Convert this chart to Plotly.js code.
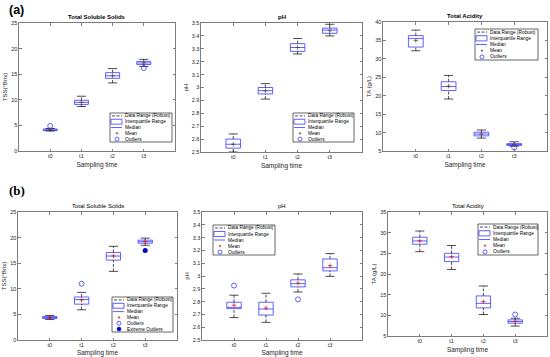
<!DOCTYPE html>
<html><head><meta charset="utf-8">
<script src="https://cdn.plot.ly/plotly-3.0.1.min.js"></script>
<style>html,body{margin:0;padding:0;background:#fff}#chart{width:550px;height:357px}</style>
</head><body><div id="chart"></div>
<script>
const categories = ['t0','t1','t2','t3'];

// ---- (a) Total Soluble Solids ----
const aTSS_q1     = [4.0, 9.1, 14.2, 16.9];
const aTSS_median = [4.1, 9.5, 14.7, 17.2];
const aTSS_q3     = [4.3, 9.9, 15.3, 17.5];
const aTSS_lower  = [3.9, 8.7, 13.3, 16.5];
const aTSS_upper  = [4.4, 10.7, 16.1, 17.9];
const aTSS_mean   = [4.15, 9.5, 14.7, 17.2];
const aTSS_outX   = ['t0', 't3'];
const aTSS_outY   = [4.9, 16.2];

// ---- (a) pH ----
const aPH_q1     = [2.53, 2.95, 3.28, 3.42];
const aPH_median = [2.56, 2.975, 3.31, 3.445];
const aPH_q3     = [2.60, 3.00, 3.34, 3.46];
const aPH_lower  = [2.50, 2.91, 3.26, 3.40];
const aPH_upper  = [2.64, 3.03, 3.38, 3.49];
const aPH_mean   = [2.56, 2.975, 3.31, 3.44];
const aPH_outX   = [];
const aPH_outY   = [];

// ---- (a) Total Acidity ----
const aTA_q1     = [33.2, 21.4, 9.1, 6.5];
const aTA_median = [35.5, 22.5, 9.6, 6.8];
const aTA_q3     = [36.3, 23.8, 10.1, 7.0];
const aTA_lower  = [32.2, 19.1, 8.5, 6.3];
const aTA_upper  = [37.8, 25.5, 10.7, 7.5];
const aTA_mean   = [35.0, 22.6, 9.6, 6.7];
const aTA_outX   = ['t3'];
const aTA_outY   = [6.0];

// ---- (b) Total Soluble Solids ----
const bTSS_q1     = [4.2, 7.0, 15.6, 18.9];
const bTSS_median = [4.4, 7.9, 16.4, 19.2];
const bTSS_q3     = [4.6, 8.4, 17.1, 19.5];
const bTSS_lower  = [4.0, 5.9, 13.4, 18.5];
const bTSS_upper  = [4.8, 9.3, 18.3, 19.9];
const bTSS_mean   = [4.4, 7.8, 16.4, 19.2];
const bTSS_outX   = ['t1'];
const bTSS_outY   = [11.0];
const bTSS_extX   = ['t3'];
const bTSS_extY   = [17.5];

// ---- (b) pH ----
const bPH_q1     = [2.745, 2.695, 2.915, 3.04];
const bPH_median = [2.755, 2.742, 2.94, 3.065];
const bPH_q3     = [2.795, 2.795, 2.97, 3.133];
const bPH_lower  = [2.675, 2.638, 2.875, 2.997];
const bPH_upper  = [2.85, 2.865, 3.016, 3.175];
const bPH_mean   = [2.772, 2.75, 2.945, 3.08];
const bPH_outX   = ['t0', 't2'];
const bPH_outY   = [2.925, 2.818];

// ---- (b) Total Acidity ----
const bTA_q1     = [27.2, 23.0, 11.8, 8.1];
const bTA_median = [28.0, 24.1, 12.9, 8.5];
const bTA_q3     = [28.9, 25.0, 14.7, 8.9];
const bTA_lower  = [25.4, 21.1, 10.2, 7.4];
const bTA_upper  = [30.4, 26.9, 17.1, 9.3];
const bTA_mean   = [28.0, 24.2, 13.3, 8.5];
const bTA_outX   = ['t3'];
const bTA_outY   = [10.2];

// tick labels
const tssTicks = [0, 5, 10, 15, 20, 25];
const phTicks = [2.5, 2.6, 2.7, 2.8, 2.9, 3.0, 3.1, 3.2, 3.3, 3.4, 3.5];
const phTickText = ['2.5','2.6','2.7','2.8','2.9','3','3.1','3.2','3.3','3.4','3.5'];
const taTicksA = [5, 10, 15, 20, 25, 30, 35, 40];
const taTicksB = [5, 10, 15, 20, 25, 30, 35];

const legendA = ['Data Range (Robust)', 'Interquartile Range', 'Median', 'Mean', 'Outliers'];
const legendB = ['Data Range (Robust)', 'Interquartile Range', 'Median', 'Mean', 'Outliers', 'Extreme Outliers'];

// ---------- layout geometry (pixels) ----------
const W = 550, H = 357;
const FONT = 'Liberation Sans, Arial, sans-serif';
const BLUE = '#3a3aff';
const AX = '#262626';
const panels = [
  {title:'Total Soluble Solids', bold:true,  ytitle:'TSS(°Brix)', area:[19,175,23,151], range:[0,25], tv:tssTicks, tt:tssTicks.map(String),
   q1:aTSS_q1, med:aTSS_median, q3:aTSS_q3, lo:aTSS_lower, hi:aTSS_upper, mean:aTSS_mean, ox:aTSS_outX, oy:aTSS_outY, ex:[], ey:[],
   leg:legendA, legBox:[110,113,172,142], meanColor:'#553333'},
  {title:'pH', bold:true, ytitle:'pH', area:[201,362,23,152], range:[2.5,3.5], tv:phTicks, tt:phTickText,
   q1:aPH_q1, med:aPH_median, q3:aPH_q3, lo:aPH_lower, hi:aPH_upper, mean:aPH_mean, ox:aPH_outX, oy:aPH_outY, ex:[], ey:[],
   leg:legendA, legBox:[293,113,354,142], meanColor:'#553333'},
  {title:'Total Acidity', bold:true, ytitle:'TA (g/L)', area:[383,547,22,151], range:[5,40], tv:taTicksA, tt:taTicksA.map(String),
   q1:aTA_q1, med:aTA_median, q3:aTA_q3, lo:aTA_lower, hi:aTA_upper, mean:aTA_mean, ox:aTA_outX, oy:aTA_outY, ex:[], ey:[],
   leg:legendA, legBox:[475,29,538,60], meanColor:'#553333'},
  {title:'Total Soluble Solids', bold:false, ytitle:'TSS(°Brix)', area:[18,177,212,340], range:[0,25], tv:tssTicks, tt:tssTicks.map(String),
   q1:bTSS_q1, med:bTSS_median, q3:bTSS_q3, lo:bTSS_lower, hi:bTSS_upper, mean:bTSS_mean, ox:bTSS_outX, oy:bTSS_outY, ex:bTSS_extX, ey:bTSS_extY,
   leg:legendB, legBox:[112,297,173,332], meanColor:'#e00000'},
  {title:'pH', bold:false, ytitle:'pH', area:[202,362,212,340], range:[2.5,3.5], tv:phTicks, tt:phTickText,
   q1:bPH_q1, med:bPH_median, q3:bPH_q3, lo:bPH_lower, hi:bPH_upper, mean:bPH_mean, ox:bPH_outX, oy:bPH_outY, ex:[], ey:[],
   leg:legendA, legBox:[213,225,275,255], meanColor:'#e00000'},
  {title:'Total Acidity', bold:false, ytitle:'TA (g/L)', area:[388,547,212,336], range:[5,35], tv:taTicksB, tt:taTicksB.map(String),
   q1:bTA_q1, med:bTA_median, q3:bTA_q3, lo:bTA_lower, hi:bTA_upper, mean:bTA_mean, ox:bTA_outX, oy:bTA_outY, ex:[], ey:[],
   leg:legendA, legBox:[478,224,538,255], meanColor:'#e00000'}
];

const px = x => x / W;
const py = y => 1 - y / H;

const traces = [];
const layout = {
  width: W, height: H,
  margin: {l:0, r:0, t:0, b:0},
  paper_bgcolor: '#fff', plot_bgcolor: '#fff',
  showlegend: false,
  font: {family: FONT, color: AX, size: 5.5},
  shapes: [], annotations: []
};

panels.forEach((p, i) => {
  const n = i === 0 ? '' : String(i + 1);
  const xa = 'x' + n, ya = 'y' + n;
  const [x0, x1, y0, y1] = p.area;
  layout['xaxis' + n] = {
    domain: [px(x0), px(x1)], anchor: ya, type: 'category',
    categoryorder: 'array', categoryarray: categories, range: [-1, 4],
    showline: true, linecolor: AX, linewidth: 0.6, mirror: 'ticks',
    ticks: 'inside', ticklen: 2.5, tickwidth: 0.6, tickcolor: AX,
    showgrid: false, zeroline: false, fixedrange: true,
    tickfont: {family: FONT, size: 5.5, color: AX},
    title: {text: 'Sampling time', font: {family: FONT, size: 6.5, color: AX}, standoff: 3.5}
  };
  layout['yaxis' + n] = {
    domain: [py(y1), py(y0)], anchor: xa, range: p.range,
    tickmode: 'array', tickvals: p.tv, ticktext: p.tt,
    showline: true, linecolor: AX, linewidth: 0.6, mirror: 'ticks',
    ticks: 'inside', ticklen: 2.5, tickwidth: 0.6, tickcolor: AX,
    showgrid: false, zeroline: false, fixedrange: true,
    tickfont: {family: FONT, size: 5.5, color: AX},
    title: {text: p.ytitle, font: {family: FONT, size: 6, color: AX}, standoff: 2}
  };

  // whiskers (dashed black), built from the data arrays
  const wx = [], wy = [];
  categories.forEach((c, k) => {
    wx.push(c, c, null, c, c, null);
    wy.push(p.lo[k], p.q1[k], null, p.q3[k], p.hi[k], null);
  });
  traces.push({type:'scatter', mode:'lines', x:wx, y:wy, xaxis:xa, yaxis:ya,
    line:{color:'#000', width:0.7, dash:'3px,1.5px'}, hoverinfo:'skip', name:'Data Range (Robust)'});
  // whisker caps
  traces.push({type:'scatter', mode:'markers', x:categories.concat(categories), y:p.lo.concat(p.hi), xaxis:xa, yaxis:ya,
    marker:{symbol:'line-ew', size:6.5, line:{color:'#000', width:0.7}}, hoverinfo:'skip'});
  // boxes (IQR + median)
  traces.push({type:'box', x:categories, q1:p.q1, median:p.med, q3:p.q3, lowerfence:p.q1, upperfence:p.q3,
    xaxis:xa, yaxis:ya, width:0.45, boxpoints:false, whiskerwidth:0,
    line:{color:BLUE, width:0.8}, fillcolor:'rgba(0,0,0,0)', name:'Interquartile Range'});
  // means
  traces.push({type:'scatter', mode:'markers', x:categories, y:p.mean, xaxis:xa, yaxis:ya,
    marker:{symbol:'cross-thin', size:3.2, line:{color:p.meanColor, width:0.7}}, name:'Mean'});
  // outliers
  if (p.ox.length) traces.push({type:'scatter', mode:'markers', x:p.ox, y:p.oy, xaxis:xa, yaxis:ya,
    marker:{symbol:'circle-open', size:5, line:{color:BLUE, width:0.8}, color:BLUE}, name:'Outliers'});
  if (p.ex.length) traces.push({type:'scatter', mode:'markers', x:p.ex, y:p.ey, xaxis:xa, yaxis:ya,
    marker:{symbol:'circle', size:5, color:'#0000c8'}, name:'Extreme Outliers'});

  // panel title
  layout.annotations.push({xref:'paper', yref:'paper', x:px((x0 + x1) / 2), y:py(y0 - 1.5),
    xanchor:'center', yanchor:'bottom', showarrow:false,
    text: p.bold ? '<b>' + p.title + '</b>' : p.title,
    font:{family: FONT, size: 6, color: '#000'}});

  // legend box (drawn as decoration)
  const [lx0, ly0, lx1, ly1] = p.legBox;
  const ih = (ly1 - ly0) / p.leg.length;
  layout.shapes.push({type:'rect', xref:'paper', yref:'paper', x0:px(lx0), x1:px(lx1), y0:py(ly0), y1:py(ly1),
    line:{color:'#000', width:0.6}, fillcolor:'#fff', layer:'above'});
  p.leg.forEach((name, k) => {
    const cy = ly0 + ih * (k + 0.5);
    const sx0 = lx0 + 2, sx1 = lx0 + 12, sc = lx0 + 7;
    if (name === 'Data Range (Robust)') {
      layout.shapes.push({type:'line', xref:'paper', yref:'paper', x0:px(sx0), x1:px(sx1), y0:py(cy), y1:py(cy),
        line:{color:'#000', width:0.7, dash:'3px,1.5px'}, layer:'above'});
    } else if (name === 'Interquartile Range') {
      layout.shapes.push({type:'rect', xref:'paper', yref:'paper', x0:px(sx0 - 1), x1:px(sx1), y0:py(cy - ih * 0.42), y1:py(cy + ih * 0.42),
        line:{color:BLUE, width:0.8}, fillcolor:'rgba(0,0,0,0)', layer:'above'});
    } else if (name === 'Median') {
      layout.shapes.push({type:'line', xref:'paper', yref:'paper', x0:px(sx0 - 1), x1:px(sx1), y0:py(cy), y1:py(cy),
        line:{color:BLUE, width:0.8}, layer:'above'});
    } else if (name === 'Mean') {
      layout.shapes.push({type:'line', xref:'paper', yref:'paper', x0:px(sc - 1.2), x1:px(sc + 1.2), y0:py(cy), y1:py(cy),
        line:{color:p.meanColor, width:0.7}, layer:'above'});
      layout.shapes.push({type:'line', xref:'paper', yref:'paper', x0:px(sc), x1:px(sc), y0:py(cy - 1.2), y1:py(cy + 1.2),
        line:{color:p.meanColor, width:0.7}, layer:'above'});
    } else if (name === 'Outliers') {
      layout.shapes.push({type:'circle', xref:'paper', yref:'paper', x0:px(sc - 2), x1:px(sc + 2), y0:py(cy - 2), y1:py(cy + 2),
        line:{color:BLUE, width:0.8}, fillcolor:'rgba(0,0,0,0)', layer:'above'});
    } else {
      layout.shapes.push({type:'circle', xref:'paper', yref:'paper', x0:px(sc - 2), x1:px(sc + 2), y0:py(cy - 2), y1:py(cy + 2),
        line:{color:'#0000c8', width:0.5}, fillcolor:'#0000c8', layer:'above'});
    }
    layout.annotations.push({xref:'paper', yref:'paper', x:px(lx0 + 13), y:py(cy), xanchor:'left', yanchor:'middle',
      showarrow:false, text:name, font:{family: FONT, size: 4.8, color:'#000'}});
  });
});

// panel labels
layout.annotations.push({xref:'paper', yref:'paper', x:px(7), y:py(10), xanchor:'left', yanchor:'middle', showarrow:false,
  text:'<b>(a)</b>', font:{family: FONT, size: 12.5, color:'#000'}});
layout.annotations.push({xref:'paper', yref:'paper', x:px(7), y:py(190), xanchor:'left', yanchor:'middle', showarrow:false,
  text:'<b>(b)</b>', font:{family: 'Liberation Serif, Times New Roman, serif', size: 13, color:'#000'}});

Plotly.newPlot('chart', traces, layout, {staticPlot: true, displayModeBar: false});
</script>
</body></html>
